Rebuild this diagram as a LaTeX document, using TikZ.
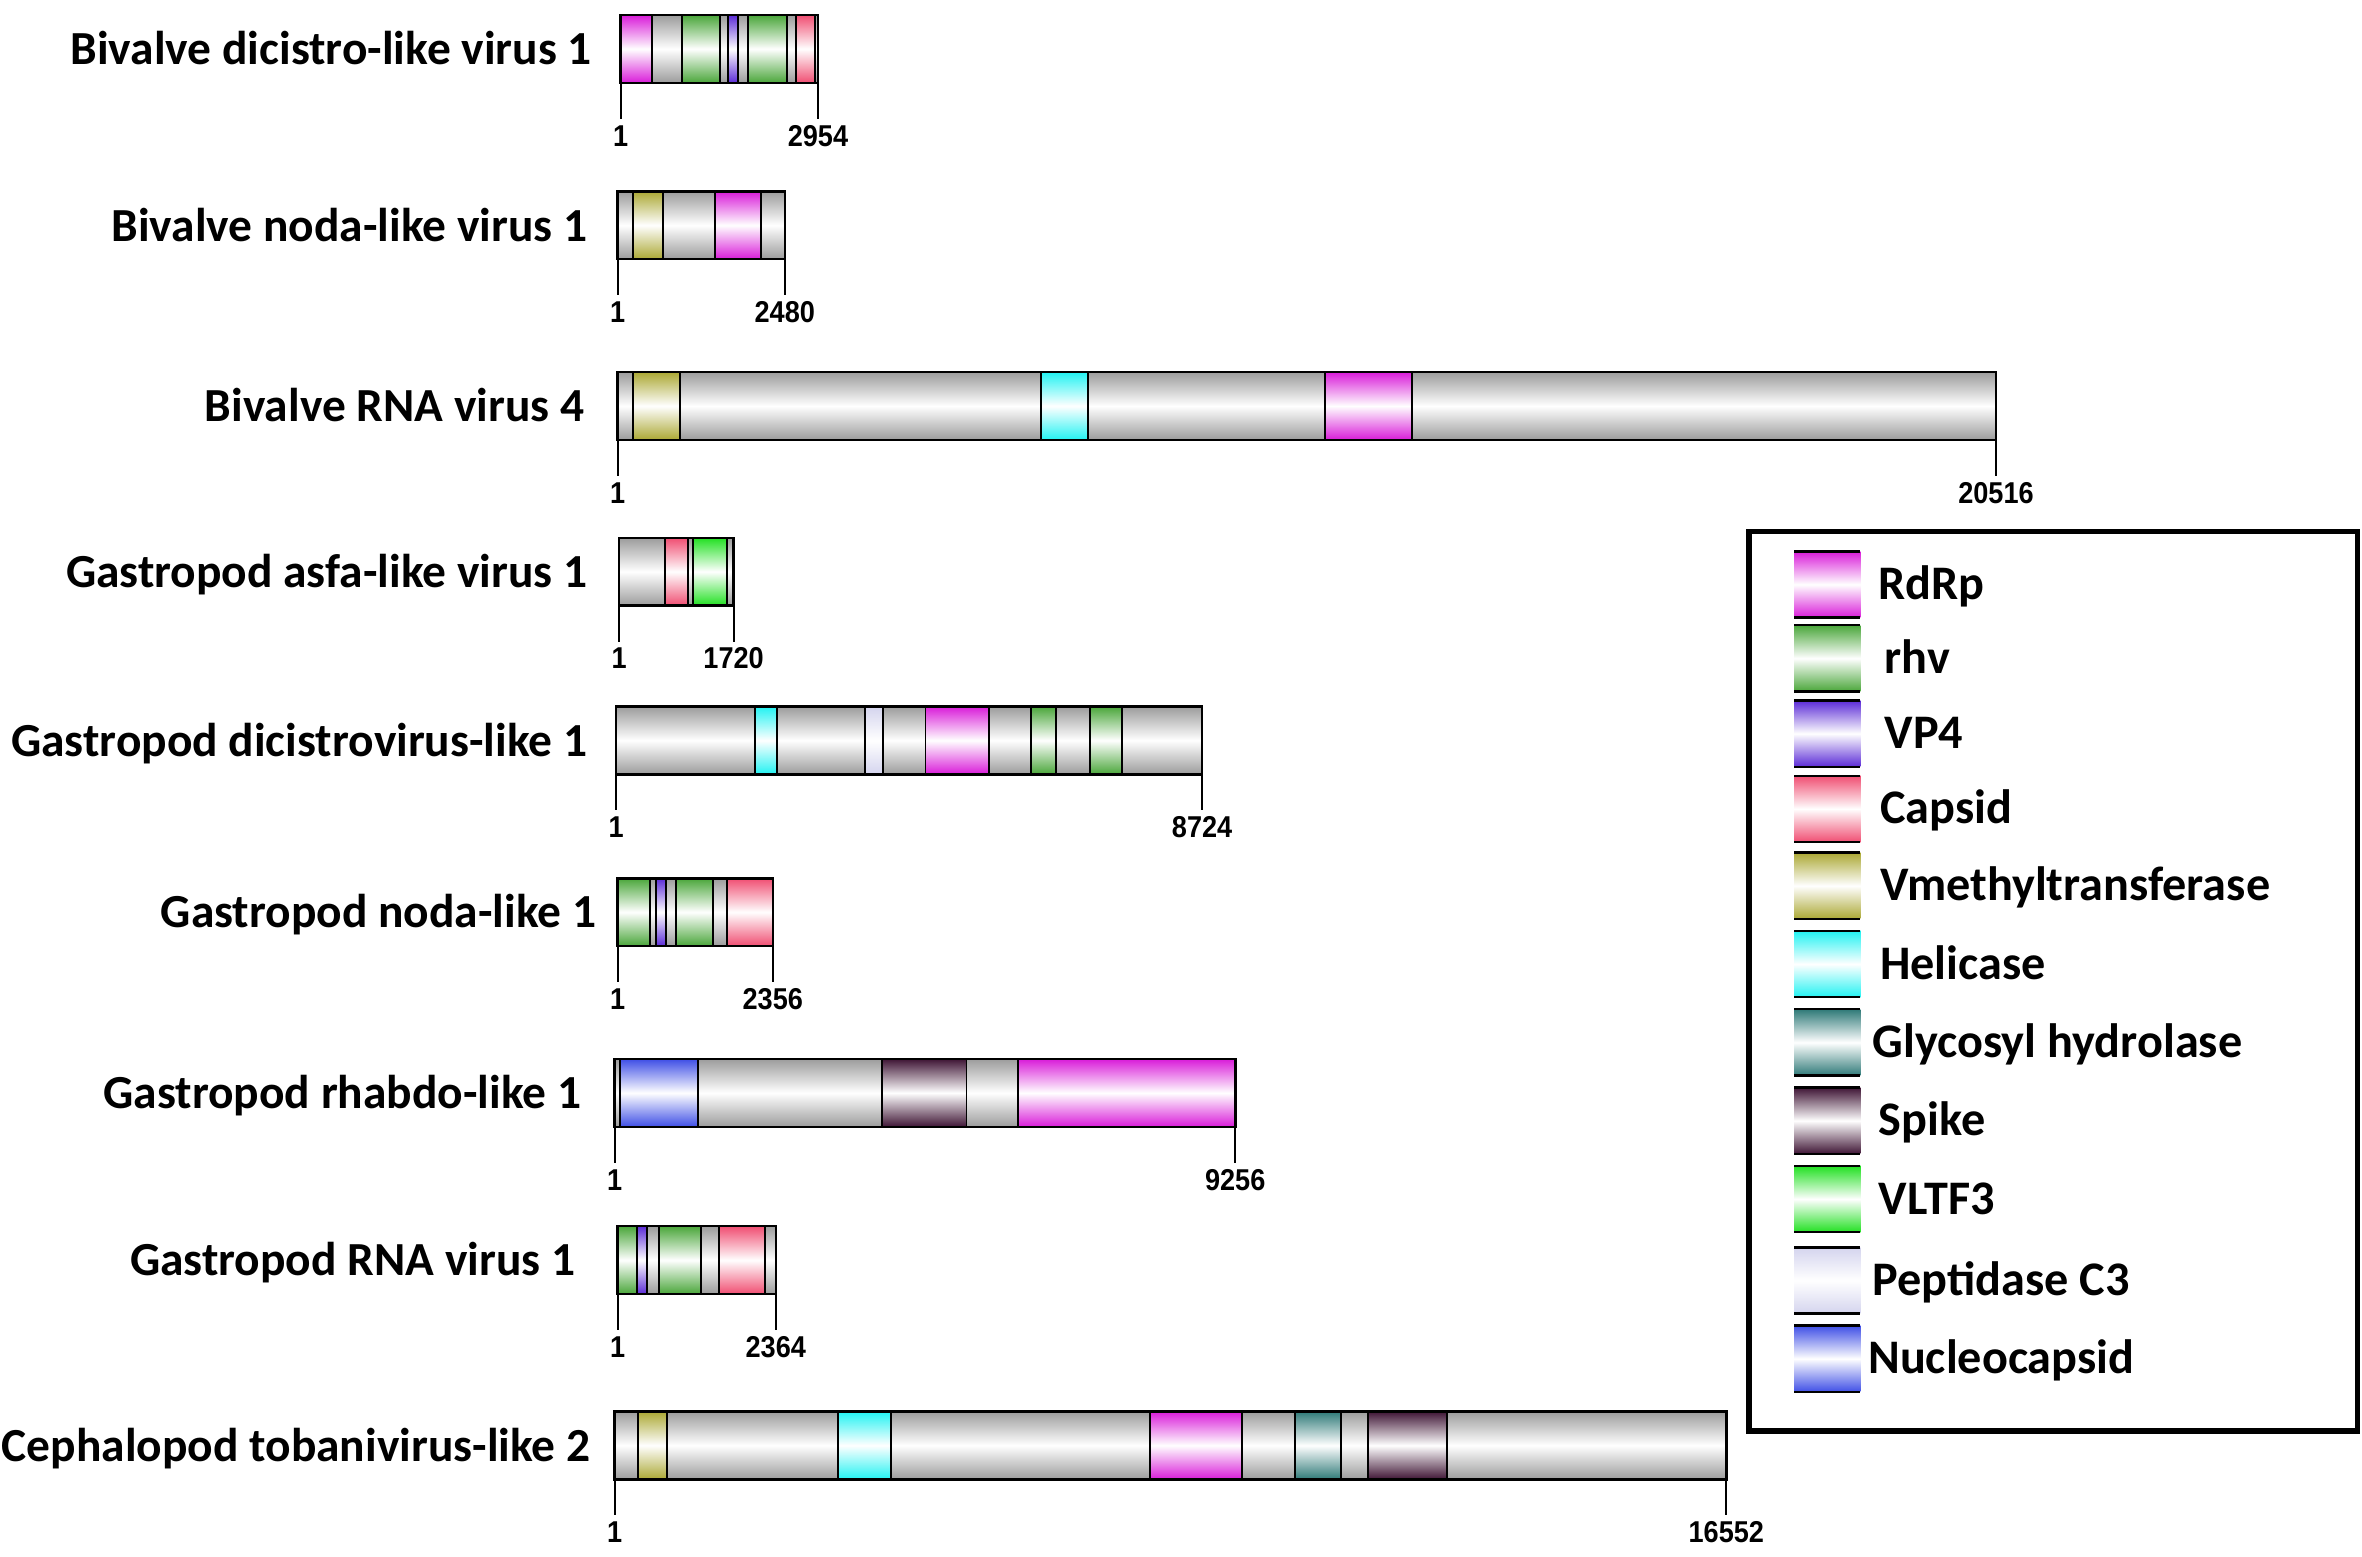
\documentclass[tikz,border=0pt]{standalone}
\usepackage{fontspec}
\setmainfont{Carlito}
\newfontfamily\tickfont{Liberation Sans}[FakeStretch=0.9]
\definecolor{cgray}{HTML}{9C9C9C}
\definecolor{crdrp}{HTML}{D91CD9}
\definecolor{crhv}{HTML}{4AA63A}
\definecolor{cvp}{HTML}{5B2BD6}
\definecolor{ccap}{HTML}{F04E72}
\definecolor{cvm}{HTML}{ABA834}
\definecolor{chel}{HTML}{22F2F2}
\definecolor{cgly}{HTML}{2F7A78}
\definecolor{cspk}{HTML}{3F1535}
\definecolor{cvl}{HTML}{22E022}
\definecolor{cpep}{HTML}{D4D4EE}
\definecolor{cnuc}{HTML}{3F4FE6}
\tikzset{
  seg/.style={draw=black, line width=1.3pt, top color=#1, bottom color=#1, middle color=white},
  outline/.style={draw=black, line width=1.7pt},
  tickline/.style={draw=black, line width=1.4pt},
  namelbl/.style={font=\fontsize{31.5}{36}\selectfont\bfseries, inner sep=0pt, anchor=base east},
  numlbl/.style={font=\tickfont\fontsize{20}{24}\selectfont\bfseries, inner sep=0pt, anchor=base},
  leglbl/.style={font=\fontsize{32}{36}\selectfont\bfseries, inner sep=0pt, anchor=base west},
}
% #1 name, #2 label, #3 label right x, #4 x0, #5 x1, #6 ytop, #7 end number, #8 segments
\newcommand{\genome}[8]{%
  \foreach \a/\b/\c in {#8}{%
    \pgfmathsetmacro\xa{#4+\a*(#5-#4)}%
    \pgfmathsetmacro\xb{#4+\b*(#5-#4)}%
    \path[seg=\c] (\xa,#6) rectangle (\xb,#6+45);
  }
  \draw[outline] (#4,#6) rectangle (#5,#6+45);
  \coordinate (#1s) at (#4,#6+45);
  \coordinate (#1e) at (#5,#6+45);
  \coordinate (#1st) at (#4,#6+69);
  \coordinate (#1et) at (#5,#6+69);
  \draw[tickline] (#1s) -- (#1st);
  \draw[tickline] (#1e) -- (#1et);
  \node[namelbl] (#1name) at (#3,#6+33) {#2};
  \node[numlbl] (#1one) at (#4,#6+87) {1};
  \node[numlbl] (#1len) at (#5,#6+87) {#7};
}
\newcommand{\legitem}[5]{% #1 name, #2 colour, #3 ytop, #4 text x, #5 text
  \path[top color=#2, bottom color=#2, middle color=white] (1191,#3) rectangle (1235,#3+44);
  \draw[line width=1.6pt] (1191,#3) -- (1235,#3);
  \draw[line width=1.6pt] (1191,#3+44) -- (1235,#3+44);
  \node[leglbl] (#1) at (#4,#3+32) {#5};
}
\begin{document}
\begin{tikzpicture}[x=1pt, y=-1pt]
\useasboundingbox[fill=white] (0,0) rectangle (1568,1033);

\genome{g1}{Bivalve dicistro-like virus 1}{393}{412}{543}{10}{2954}{0/0.158/crdrp, 0.158/0.311/cgray, 0.311/0.503/crhv, 0.503/0.546/cgray, 0.546/0.597/cvp, 0.597/0.643/cgray, 0.643/0.842/crhv, 0.842/0.888/cgray, 0.888/0.985/ccap, 0.985/1/cgray}

\genome{g2}{Bivalve noda-like virus 1}{390}{410}{521}{127}{2480}{0/0.09/cgray, 0.09/0.269/cvm, 0.269/0.584/cgray, 0.584/0.856/crdrp, 0.856/1/cgray}

\genome{g3}{Bivalve RNA virus 4}{388}{410}{1325}{247}{20516}{0/0.011/cgray, 0.011/0.045/cvm, 0.045/0.307/cgray, 0.307/0.341/chel, 0.341/0.513/cgray, 0.513/0.576/crdrp, 0.576/1/cgray}

\genome{g4}{Gastropod asfa-like virus 1}{390}{411}{487}{357}{1720}{0/0.403/cgray, 0.403/0.604/ccap, 0.604/0.643/cgray, 0.643/0.944/cvl, 0.944/1/cgray}

\genome{g5}{Gastropod dicistrovirus-like 1}{390}{409}{798}{469}{8724}{0/0.237/cgray, 0.237/0.274/chel, 0.274/0.425/cgray, 0.425/0.455/cpep, 0.455/0.528/cgray, 0.528/0.637/crdrp, 0.637/0.708/cgray, 0.708/0.751/crhv, 0.751/0.808/cgray, 0.808/0.864/crhv, 0.864/1/cgray}

\genome{g6}{Gastropod noda-like 1}{396}{410}{513}{583}{2356}{0/0.206/crhv, 0.206/0.248/cgray, 0.248/0.312/cvp, 0.312/0.379/cgray, 0.379/0.617/crhv, 0.617/0.706/cgray, 0.706/1/ccap}

\genome{g7}{Gastropod rhabdo-like 1}{386}{408}{820}{703}{9256}{0/0.0094/cgray, 0.0094/0.135/cnuc, 0.135/0.431/cgray, 0.431/0.567/cspk, 0.567/0.65/cgray, 0.65/1/crdrp}

\genome{g8}{Gastropod RNA virus 1}{382}{410}{515}{814}{2364}{0/0.122/crhv, 0.122/0.188/cvp, 0.188/0.263/cgray, 0.263/0.526/crhv, 0.526/0.641/cgray, 0.641/0.932/ccap, 0.932/1/cgray}

\genome{g9}{Cephalopod tobanivirus-like 2}{392}{408}{1146}{937}{16552}{0/0.0211/cgray, 0.0211/0.0475/cvm, 0.0475/0.201/cgray, 0.201/0.249/chel, 0.249/0.482/cgray, 0.482/0.564/crdrp, 0.564/0.612/cgray, 0.612/0.653/cgly, 0.653/0.678/cgray, 0.678/0.749/cspk, 0.749/1/cgray}

% legend
\draw[line width=3.5pt] (1161,353) rectangle (1565,950);
\legitem{lrdrp}{crdrp}{366}{1247}{RdRp}
\legitem{lrhv}{crhv}{415}{1251}{rhv}
\legitem{lvp}{cvp}{465}{1251}{VP4}
\legitem{lcap}{ccap}{515}{1248}{Capsid}
\legitem{lvm}{cvm}{566}{1248}{Vmethyltransferase}
\legitem{lhel}{chel}{618}{1248}{Helicase}
\legitem{lgly}{cgly}{670}{1243}{Glycosyl hydrolase}
\legitem{lspk}{cspk}{722}{1247}{Spike}
\legitem{lvl}{cvl}{774}{1247}{VLTF3}
\legitem{lpep}{cpep}{828}{1243}{Peptidase C3}
\legitem{lnuc}{cnuc}{880}{1240}{Nucleocapsid}
\end{tikzpicture}
\end{document}
